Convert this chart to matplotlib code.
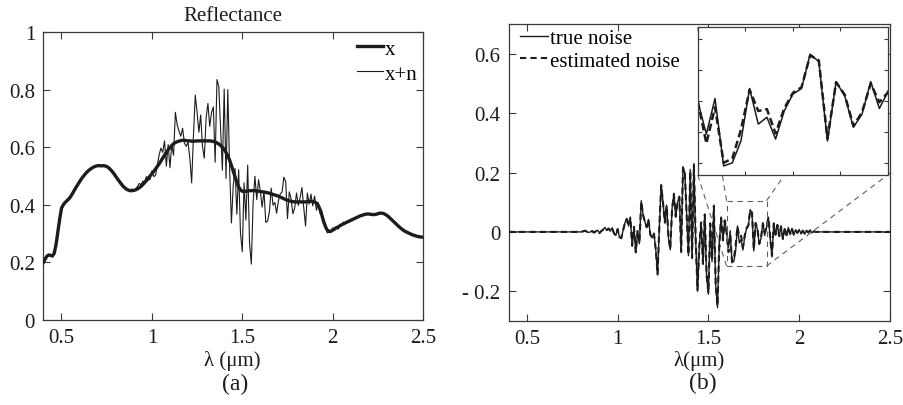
import numpy as np
import matplotlib
matplotlib.use('Agg')
from matplotlib import pyplot as plt

plt.rcParams['font.family'] = ['Liberation Serif', 'DejaVu Serif']

# wavelength grid (um), one band every 0.01 um
wavelength = np.linspace(0.40, 2.50, 211)

# clean reflectance x
reflectance = [
    0.200, 0.212, 0.222, 0.226, 0.224, 0.222, 0.232, 0.262, 0.305, 0.350,
    0.388, 0.400, 0.408, 0.414, 0.420, 0.428, 0.438, 0.449, 0.460, 0.470,
    0.480, 0.490, 0.498, 0.506, 0.513, 0.519, 0.524, 0.528, 0.532, 0.534,
    0.536, 0.536, 0.535, 0.536, 0.535, 0.533, 0.529, 0.523, 0.516, 0.508,
    0.499, 0.490, 0.481, 0.473, 0.465, 0.459, 0.454, 0.451, 0.449, 0.449,
    0.450, 0.452, 0.455, 0.459, 0.464, 0.470, 0.477, 0.484, 0.492, 0.500,
    0.508, 0.516, 0.524, 0.533, 0.542, 0.552, 0.562, 0.572, 0.582, 0.591,
    0.599, 0.606, 0.612, 0.616, 0.619, 0.621, 0.623, 0.624, 0.624, 0.623,
    0.622, 0.622, 0.621, 0.621, 0.621, 0.622, 0.622, 0.622, 0.622, 0.622,
    0.622, 0.622, 0.622, 0.621, 0.620, 0.618, 0.615, 0.611, 0.606, 0.600,
    0.592, 0.582, 0.570, 0.555, 0.537, 0.517, 0.496, 0.477, 0.462, 0.452,
    0.447, 0.446, 0.447, 0.448, 0.449, 0.449, 0.449, 0.449, 0.448, 0.447,
    0.446, 0.445, 0.444, 0.443, 0.442, 0.440, 0.438, 0.436, 0.434, 0.432,
    0.430, 0.427, 0.424, 0.421, 0.418, 0.416, 0.414, 0.412, 0.411, 0.410,
    0.410, 0.410, 0.410, 0.410, 0.410, 0.410, 0.411, 0.412, 0.412, 0.411,
    0.410, 0.406, 0.398, 0.384, 0.364, 0.342, 0.324, 0.312, 0.307, 0.308,
    0.312, 0.316, 0.320, 0.323, 0.327, 0.331, 0.334, 0.337, 0.340, 0.343,
    0.346, 0.349, 0.352, 0.355, 0.358, 0.361, 0.363, 0.365, 0.367, 0.368,
    0.368, 0.367, 0.366, 0.366, 0.367, 0.369, 0.371, 0.371, 0.370, 0.367,
    0.363, 0.358, 0.352, 0.346, 0.340, 0.334, 0.328, 0.322, 0.317, 0.312,
    0.308, 0.305, 0.302, 0.299, 0.296, 0.294, 0.292, 0.290, 0.289, 0.288,
    0.287,
]

# true noise n
true_noise = [
    0.000, 0.000, 0.000, 0.000, 0.000, 0.000, 0.000, 0.000, 0.000, 0.000,
    0.000, 0.000, 0.000, 0.000, 0.000, 0.000, 0.000, 0.000, 0.000, 0.000,
    0.000, 0.000, 0.000, 0.000, 0.000, 0.000, 0.000, 0.000, 0.000, 0.000,
    0.000, 0.000, 0.000, 0.000, 0.000, 0.000, 0.000, 0.000, 0.000, 0.000,
    0.000, 0.002, 0.005, 0.001, -0.002, 0.000, 0.003, -0.003, 0.002, 0.006,
    -0.004, 0.003, 0.008, 0.015, 0.006, 0.012, 0.004, 0.014, -0.006, -0.012,
    0.010, -0.018, -0.022, 0.005, 0.030, 0.045, 0.020, 0.050, -0.048, 0.018,
    -0.070, 0.002, -0.040, 0.105, 0.058, 0.035, 0.015, 0.042, -0.010, -0.020,
    -0.005, -0.060, -0.145, 0.020, 0.160, 0.100, 0.030, 0.090, -0.020, -0.060,
    0.080, 0.130, 0.050, 0.100, 0.120, -0.070, 0.220, 0.200, 0.060, -0.080,
    0.210, -0.090, 0.230, -0.030, -0.200, -0.050, 0.030, -0.110, 0.060, -0.150,
    -0.210, 0.030, -0.100, 0.090, -0.180, -0.255, -0.040, 0.050, -0.030, 0.040,
    0.000, -0.053, 0.004, -0.104, -0.099, -0.064, 0.020, -0.037, -0.026, -0.061,
    -0.016, 0.011, 0.020, 0.075, 0.063, -0.064, 0.031, 0.008, -0.042, -0.021,
    0.031, -0.012, 0.015, 0.050, -0.020, -0.084, 0.030, -0.010, 0.025, -0.015,
    0.020, -0.025, 0.010, -0.012, 0.015, -0.008, 0.012, -0.010, 0.006, -0.004,
    0.008, -0.006, 0.005, -0.008, 0.004, -0.002, 0.006, -0.003, 0.002, 0.000,
    0.000, 0.000, 0.000, 0.000, 0.000, 0.000, 0.000, 0.000, 0.000, 0.000,
    0.000, 0.000, 0.000, 0.000, 0.000, 0.000, 0.000, 0.000, 0.000, 0.000,
    0.000, 0.000, 0.000, 0.000, 0.000, 0.000, 0.000, 0.000, 0.000, 0.000,
    0.000, 0.000, 0.000, 0.000, 0.000, 0.000, 0.000, 0.000, 0.000, 0.000,
    0.000,
]

# estimated noise
est_noise = [
    0.000, 0.000, 0.000, 0.000, 0.000, 0.000, 0.000, 0.000, 0.000, 0.000,
    0.000, 0.000, 0.000, 0.000, 0.000, 0.000, 0.000, 0.000, 0.000, 0.000,
    0.000, 0.000, 0.000, 0.000, 0.000, 0.000, 0.000, 0.000, 0.000, 0.000,
    0.000, 0.000, 0.000, 0.000, 0.000, 0.000, 0.000, 0.000, 0.000, 0.000,
    0.000, 0.002, 0.004, 0.001, -0.002, 0.000, 0.003, -0.002, 0.002, 0.005,
    -0.004, 0.003, 0.007, 0.014, 0.006, 0.011, 0.004, 0.013, -0.005, -0.011,
    0.009, -0.017, -0.021, 0.005, 0.029, 0.043, 0.020, 0.048, -0.046, 0.017,
    -0.068, 0.003, -0.038, 0.102, 0.057, 0.034, 0.016, 0.040, -0.009, -0.019,
    -0.006, -0.058, -0.142, 0.022, 0.156, 0.098, 0.032, 0.088, -0.018, -0.058,
    0.078, 0.127, 0.052, 0.098, 0.118, -0.066, 0.215, 0.197, 0.062, -0.077,
    0.205, -0.086, 0.225, -0.028, -0.195, -0.047, 0.032, -0.106, 0.058, -0.146,
    -0.205, 0.028, -0.097, 0.087, -0.176, -0.250, -0.038, 0.047, -0.028, 0.038,
    0.000, -0.068, -0.010, -0.099, -0.092, -0.046, 0.018, -0.016, -0.013, -0.052,
    -0.012, 0.013, 0.022, 0.073, 0.065, -0.060, 0.030, 0.010, -0.040, -0.018,
    0.028, -0.002, 0.014, 0.048, -0.018, -0.080, 0.028, -0.009, 0.023, -0.014,
    0.018, -0.023, 0.009, -0.011, 0.014, -0.007, 0.011, -0.009, 0.005, -0.003,
    0.007, -0.005, 0.004, -0.007, 0.004, -0.002, 0.005, -0.003, 0.002, 0.000,
    0.000, 0.000, 0.000, 0.000, 0.000, 0.000, 0.000, 0.000, 0.000, 0.000,
    0.000, 0.000, 0.000, 0.000, 0.000, 0.000, 0.000, 0.000, 0.000, 0.000,
    0.000, 0.000, 0.000, 0.000, 0.000, 0.000, 0.000, 0.000, 0.000, 0.000,
    0.000, 0.000, 0.000, 0.000, 0.000, 0.000, 0.000, 0.000, 0.000, 0.000,
    0.000,
]

x_ticks = [0.5, 1, 1.5, 2, 2.5]
x_ticklabels = ['0.5', '1', '1.5', '2', '2.5']
a_yticks = [0, 0.2, 0.4, 0.6, 0.8, 1]
a_yticklabels = ['0', '0.2', '0.4', '0.6', '0.8', '1']
b_yticks = [-0.2, 0, 0.2, 0.4, 0.6]
b_yticklabels = ['- 0.2', '0', '0.2', '0.4', '0.6']

# zoomed region shown in the inset
zoom_x = (1.60, 1.82)
zoom_y = (-0.115, 0.105)

ink = '#1c1c1c'
frame = '#3a3a3a'
guide = '#606060'

noisy = np.array(reflectance) + np.array(true_noise)

fig = plt.figure(figsize=(9.04, 4.06), dpi=100)


def style_axes(ax, size=15, length=5):
    ax.tick_params(direction='in', top=True, right=True, length=length,
                   width=0.8, labelsize=size, colors=frame, labelcolor=ink, pad=6)
    for s in ax.spines.values():
        s.set_color(frame)
        s.set_linewidth(0.9)


# ---- (a) reflectance
ax_a = fig.add_axes([0.048, 0.2094, 0.42, 0.7093])
l_noisy, = ax_a.plot(wavelength, noisy, color=ink, lw=0.8, zorder=2)
l_clean, = ax_a.plot(wavelength, reflectance, color=ink, lw=2.4, zorder=3)
ax_a.set_xlim(0.4, 2.5)
ax_a.set_ylim(0, 1)
ax_a.set_xticks(x_ticks)
ax_a.set_xticklabels(x_ticklabels)
ax_a.set_yticks(a_yticks)
ax_a.set_yticklabels(a_yticklabels)
style_axes(ax_a)
ax_a.set_title('Reflectance', fontsize=15, pad=9, color=ink)
ax_a.legend([l_clean, l_noisy], ['x', 'x+n'], loc='upper right',
            bbox_to_anchor=(0.985, 0.975), frameon=False, fontsize=15,
            handlelength=1.25, handletextpad=0.1, labelspacing=0.25,
            borderpad=0, borderaxespad=0)
fig.text(232 / 904, 1 - 361 / 406, 'λ (μm)', ha='center', va='center',
         fontsize=15, color=ink)
fig.text(235 / 904, 1 - 384 / 406, '(a)', ha='center', va='center',
         fontsize=17, color=ink)

# ---- (b) noise
ax_b = fig.add_axes([0.5627, 0.2069, 0.4218, 0.7315])
l_true, = ax_b.plot(wavelength, true_noise, color=ink, lw=1.0, zorder=3)
l_est, = ax_b.plot(wavelength, est_noise, color=ink, lw=1.5, ls=(0, (3, 2)),
                   zorder=4)
ax_b.set_xlim(0.4, 2.5)
ax_b.set_ylim(-0.3, 0.7)
ax_b.set_xticks(x_ticks)
ax_b.set_xticklabels(x_ticklabels)
ax_b.set_yticks(b_yticks)
ax_b.set_yticklabels(b_yticklabels)
style_axes(ax_b)
ax_b.legend([l_true, l_est], ['true noise', 'estimated noise'], loc='upper left',
            bbox_to_anchor=(0.03, 0.985), frameon=False, fontsize=15,
            handlelength=1.35, handletextpad=0.1, labelspacing=0.15,
            borderpad=0, borderaxespad=0)
fig.text(698.7 / 904, 1 - 361.5 / 406, 'λ(μm)', ha='center', va='center',
         fontsize=15, color=ink)
fig.text(702.7 / 904, 1 - 383 / 406, '(b)', ha='center', va='center',
         fontsize=17, color=ink)

# zoom rectangle
rx = [zoom_x[0], zoom_x[1], zoom_x[1], zoom_x[0], zoom_x[0]]
ry = [zoom_y[1], zoom_y[1], zoom_y[0], zoom_y[0], zoom_y[1]]
ax_b.plot(rx, ry, color=guide, lw=0.8, ls=(0, (5, 4)), zorder=5)

# ---- inset
in_rect = [0.7718, 0.5672, 0.2105, 0.3631]
ax_in = fig.add_axes(in_rect)
ax_in.plot(wavelength, true_noise, color=ink, lw=1.1)
ax_in.plot(wavelength, est_noise, color=ink, lw=1.8, ls=(0, (3, 1.5)))
ax_in.set_xlim(*zoom_x)
ax_in.set_ylim(-0.118, 0.118)
ax_in.set_xticks([1.655, 1.71, 1.765])
ax_in.set_yticks([-0.1, -0.05, 0, 0.05, 0.1])
ax_in.tick_params(labelbottom=False, labelleft=False)
style_axes(ax_in, length=3)
ax_in.set_facecolor('white')

# connector lines from zoom rectangle corners to inset corners
to_data = fig.transFigure + ax_b.transData.inverted()
ix0, iy0 = to_data.transform((in_rect[0], in_rect[1]))
ix1, iy1 = to_data.transform((in_rect[0] + in_rect[2], in_rect[1] + in_rect[3]))
pairs = [((zoom_x[0], zoom_y[1]), (ix0, iy1)),
         ((zoom_x[0], zoom_y[0]), (ix0, iy0)),
         ((zoom_x[1], zoom_y[1]), (ix1, iy1)),
         ((zoom_x[1], zoom_y[0]), (ix1, iy0))]
for p, q in pairs:
    ax_b.plot([p[0], q[0]], [p[1], q[1]], color=guide, lw=0.8,
              ls=(0, (5, 4)), zorder=2)

fig.savefig('out.png', dpi=100)
